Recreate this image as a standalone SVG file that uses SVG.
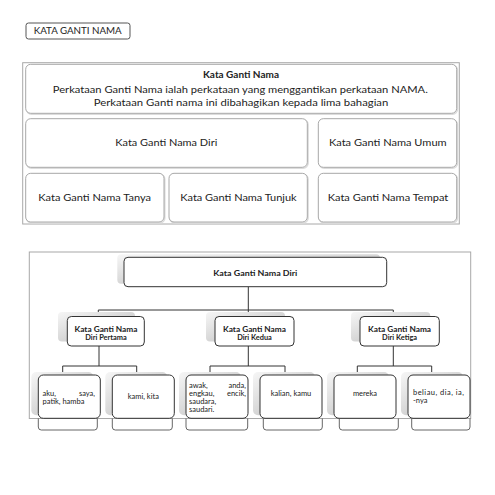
<svg xmlns="http://www.w3.org/2000/svg" width="495" height="495" viewBox="0 0 495 495">
<style>
text{font-family:Lato,"Liberation Sans",sans-serif;fill:#222}
.t{font-size:10px}
.hb{font-size:10px;font-weight:bold}
.b{font-size:8px;font-weight:bold}
.c{font-size:7.4px;font-weight:bold}
.l{font-size:7.5px}
.pbox{fill:#fff;stroke:#a8a8a8;stroke-width:1}
.psh{fill:none;stroke:#dcdcdc;stroke-width:1.5}
.frame{fill:none;stroke:#a8a8a8;stroke-width:1}
.node{fill:#fff;stroke:#333;stroke-width:1}
.sh{fill:url(#g)}
.con{fill:none;stroke:#333;stroke-width:1}
.ft{fill:none;stroke:#555;stroke-width:0.9}
</style>
<defs>
<linearGradient id="g" x1="0" y1="0" x2="1" y2="1">
<stop offset="0" stop-color="#f6f6f6"/>
<stop offset="1" stop-color="#b8b8b8"/>
</linearGradient>
</defs>
<rect width="495" height="495" fill="#fff"/>

<g id="title">
<rect x="26" y="23" width="104" height="16" rx="2.5" fill="#fff" stroke="#555" stroke-width="1"/>
<text x="77.7" y="34.3" text-anchor="middle" style="font-size:8.6px" textLength="88" lengthAdjust="spacingAndGlyphs">KATA GANTI NAMA</text>
</g>

<rect id="frame-top" class="frame" x="22.7" y="62.7" width="436.6" height="161.3"/>

<g id="kgn">
<rect class="psh" x="26.5" y="65.3" width="431" height="49" rx="5"/>
<rect class="pbox" x="25.7" y="64.3" width="431" height="49" rx="5"/>
<text class="hb" x="241" y="77.8" text-anchor="middle">Kata Ganti Nama</text>
<text class="t" x="240.3" y="92.8" text-anchor="middle" textLength="375" lengthAdjust="spacingAndGlyphs">Perkataan Ganti Nama ialah perkataan yang menggantikan perkataan NAMA.</text>
<text class="t" x="241" y="106" text-anchor="middle" textLength="294.6" lengthAdjust="spacingAndGlyphs">Perkataan Ganti nama ini dibahagikan kepada lima bahagian</text>
</g>
<g id="diri">
<rect class="psh" x="26.5" y="119.7" width="281.6" height="48.6" rx="5"/>
<rect class="pbox" x="25.7" y="118.7" width="281.6" height="48.6" rx="5"/>
<text class="t" x="166.3" y="146.2" text-anchor="middle" textLength="102" lengthAdjust="spacingAndGlyphs">Kata Ganti Nama Diri</text>
</g>
<g id="umum">
<rect class="psh" x="319.1" y="119.7" width="138.4" height="48.6" rx="5"/>
<rect class="pbox" x="318.3" y="118.7" width="138.4" height="48.6" rx="5"/>
<text class="t" x="387.8" y="146.2" text-anchor="middle" textLength="117.7" lengthAdjust="spacingAndGlyphs">Kata Ganti Nama Umum</text>
</g>
<g id="tanya">
<rect class="psh" x="26.5" y="174.3" width="138.3" height="48.7" rx="5"/>
<rect class="pbox" x="25.7" y="173.3" width="138.3" height="48.7" rx="5"/>
<text class="t" x="94.7" y="200.8" text-anchor="middle" textLength="112.7" lengthAdjust="spacingAndGlyphs">Kata Ganti Nama Tanya</text>
</g>
<g id="tunjuk">
<rect class="psh" x="169.8" y="174.3" width="138.3" height="48.7" rx="5"/>
<rect class="pbox" x="169" y="173.3" width="138.3" height="48.7" rx="5"/>
<text class="t" x="238.5" y="200.8" text-anchor="middle" textLength="116.4" lengthAdjust="spacingAndGlyphs">Kata Ganti Nama Tunjuk</text>
</g>
<g id="tempat">
<rect class="psh" x="319.1" y="174.3" width="138.4" height="48.7" rx="5"/>
<rect class="pbox" x="318.3" y="173.3" width="138.4" height="48.7" rx="5"/>
<text class="t" x="388" y="200.8" text-anchor="middle" textLength="120.6" lengthAdjust="spacingAndGlyphs">Kata Ganti Nama Tempat</text>
</g>

<rect id="frame-bottom" class="frame" x="29.3" y="252" width="441.4" height="166.5"/>

<g id="connectors">
<path class="con" d="M248.3,286.7 V316.5 M98.3,310 H393.3 M98.3,310 V316.5 M393.3,310 V316.5"/>
<path class="con" d="M99,346 V366 M62.7,366 H136.7 M62.7,366 V372.5 M136.7,366 V372.5"/>
<path class="con" d="M248.3,346 V366 M210,366 H285 M210,366 V372.5 M285,366 V372.5"/>
<path class="con" d="M393.3,346 V366 M357.3,366 H431.7 M357.3,366 V372.5 M431.7,366 V372.5"/>
</g>

<g id="kgn-diri">
<rect class="sh" x="117.3" y="254.3" width="262.7" height="29.4" rx="4"/>
<rect class="node" x="124" y="257.3" width="262.7" height="29.4" rx="4"/>
<text class="b" x="255.3" y="276" text-anchor="middle" textLength="84" lengthAdjust="spacingAndGlyphs">Kata Ganti Nama Diri</text>
</g>

<g id="pertama">
<rect class="sh" x="58" y="312" width="77" height="29.5" rx="4"/>
<rect class="node" x="67.3" y="316.5" width="77" height="29.5" rx="4"/>
<text class="c" x="106" y="331.5" text-anchor="middle" textLength="63" lengthAdjust="spacingAndGlyphs">Kata Ganti Nama</text>
<text class="c" x="106" y="340.2" text-anchor="middle">Diri Pertama</text>
</g>
<g id="kedua">
<rect class="sh" x="206" y="312" width="79" height="29.5" rx="4"/>
<rect class="node" x="215" y="316.5" width="79" height="29.5" rx="4"/>
<text class="c" x="254.5" y="331.5" text-anchor="middle" textLength="63" lengthAdjust="spacingAndGlyphs">Kata Ganti Nama</text>
<text class="c" x="254.5" y="340.2" text-anchor="middle">Diri Kedua</text>
</g>
<g id="ketiga">
<rect class="sh" x="351" y="312" width="79.3" height="29.5" rx="4"/>
<rect class="node" x="360" y="316.5" width="79.3" height="29.5" rx="4"/>
<text class="c" x="399.6" y="331.5" text-anchor="middle" textLength="63" lengthAdjust="spacingAndGlyphs">Kata Ganti Nama</text>
<text class="c" x="399.6" y="340.2" text-anchor="middle">Diri Ketiga</text>
</g>

<g id="leaf1">
<rect class="sh" x="31.3" y="372" width="62" height="43.3" rx="5"/>
<rect class="node" x="38.3" y="375" width="62" height="43.3" rx="5"/>
<text class="l" x="42.5" y="396">aku,</text>
<text class="l" x="95" y="396" text-anchor="end">saya,</text>
<text class="l" x="42.5" y="404">patik, hamba</text>
</g>
<g id="leaf2">
<rect class="sh" x="105.3" y="372" width="62" height="43.3" rx="5"/>
<rect class="node" x="112.3" y="375" width="62" height="43.3" rx="5"/>
<text class="l" x="143.3" y="399" text-anchor="middle">kami, kita</text>
</g>
<g id="leaf3">
<rect class="sh" x="179" y="372" width="62" height="43.3" rx="5"/>
<rect class="node" x="186" y="375" width="62" height="43.3" rx="5"/>
<text class="l" x="189" y="388.4">awak,</text>
<text class="l" x="246" y="388.4" text-anchor="end">anda,</text>
<text class="l" x="189" y="396.2">engkau,</text>
<text class="l" x="246" y="396.2" text-anchor="end">encik,</text>
<text class="l" x="189" y="404">saudara,</text>
<text class="l" x="189" y="411.8">saudari.</text>
</g>
<g id="leaf4">
<rect class="sh" x="253" y="372" width="62" height="43.3" rx="5"/>
<rect class="node" x="260" y="375" width="62" height="43.3" rx="5"/>
<text class="l" x="291" y="396" text-anchor="middle">kalian, kamu</text>
</g>
<g id="leaf5">
<rect class="sh" x="327" y="372" width="62" height="43.3" rx="5"/>
<rect class="node" x="334" y="375" width="62" height="43.3" rx="5"/>
<text class="l" x="365" y="396" text-anchor="middle">mereka</text>
</g>
<g id="leaf6">
<rect class="sh" x="401" y="372" width="62" height="43.3" rx="5"/>
<rect class="node" x="408" y="375" width="62" height="43.3" rx="5"/>
<text class="l" x="413" y="395" textLength="51" lengthAdjust="spacing">beliau, dia, ia,</text>
<text class="l" x="413" y="403">-nya</text>
</g>

<g id="footers">
<path class="ft" d="M38.3,418.5 V427 Q38.3,430 41.3,430 H94.3 Q97.3,430 97.3,427 V418.5"/>
<path class="ft" d="M112.3,418.5 V427 Q112.3,430 115.3,430 H169.3 Q172.3,430 172.3,427 V418.5"/>
<path class="ft" d="M186,418.5 V427 Q186,430 189,430 H244.7 Q247.7,430 247.7,427 V418.5"/>
<path class="ft" d="M263.3,418.5 V427 Q263.3,430 266.3,430 H319.3 Q322.3,430 322.3,427 V418.5"/>
<path class="ft" d="M339.3,418.5 V427 Q339.3,430 342.3,430 H395.3 Q398.3,430 398.3,427 V418.5"/>
<path class="ft" d="M411.7,418.5 V427 Q411.7,430 414.7,430 H467 Q470,430 470,427 V418.5"/>
</g>
</svg>
